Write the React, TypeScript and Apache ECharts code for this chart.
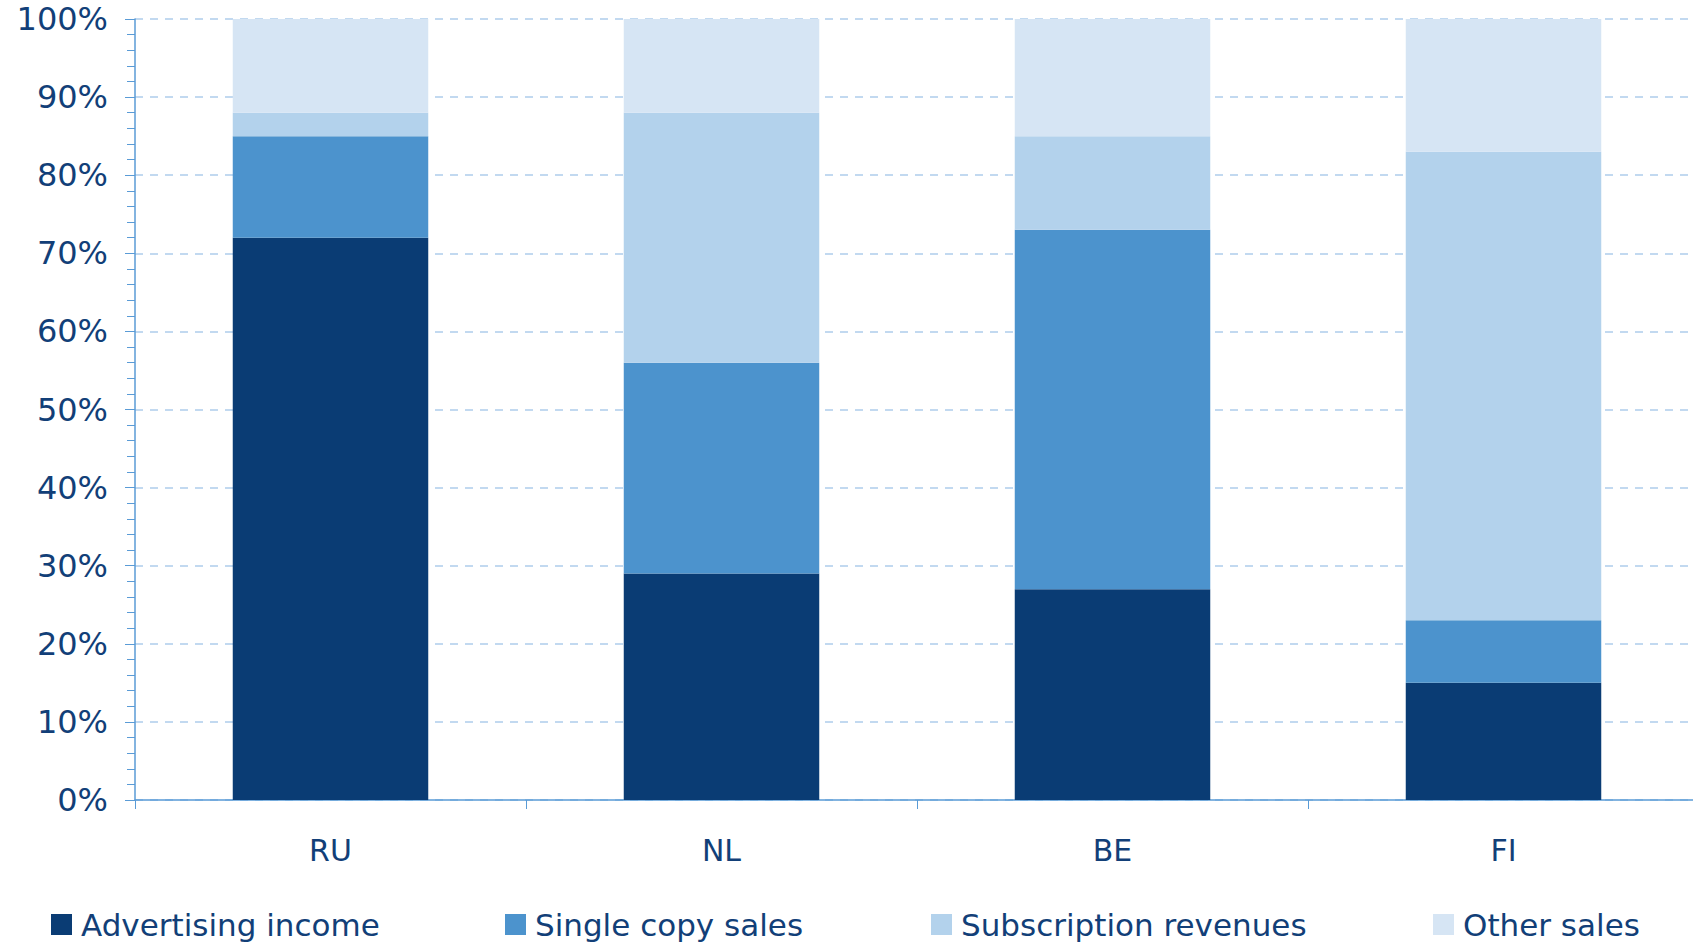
import React, { useEffect, useRef } from "react";
import * as echarts from "echarts";

const categories = ["RU", "NL", "BE", "FI"];
const advertisingIncome = [72, 29, 27, 15];
const singleCopySales = [13, 27, 46, 8];
const subscriptionRevenues = [3, 32, 12, 60];
const otherSales = [12, 12, 15, 17];
const yTicks = [0, 10, 20, 30, 40, 50, 60, 70, 80, 90, 100];

const seriesNames = ["Advertising income", "Single copy sales", "Subscription revenues", "Other sales"];
const seriesColors = ["#0a3c74", "#4c93cd", "#b3d2ec", "#d6e5f4"];
const seriesData = [advertisingIncome, singleCopySales, subscriptionRevenues, otherSales];
const legendLefts = [46, 500, 926, 1428];

const TEXT = "#123f78";
const AXIS = "#5a9bd6";
const FONT = "DejaVu Sans";

export default function App() {
  const ref = useRef<HTMLDivElement>(null);
  useEffect(() => {
    if (!ref.current) return;
    const chart = echarts.init(ref.current, null, { renderer: "svg" });
    chart.setOption({
      animation: false,
      backgroundColor: "#ffffff",
      grid: {
        left: 135,
        top: 19,
        bottom: 143,
        right: -6,
        containLabel: false,
        outerBoundsMode: "none",
      },
      legend: seriesNames.map((name, i) => ({
        data: [name],
        left: legendLefts[i],
        top: 904,
        itemWidth: 21,
        itemHeight: 21,
        itemGap: 0,
        icon: "rect",
        textStyle: { fontFamily: FONT, fontSize: 31, color: TEXT, padding: [0, 0, 0, 4] },
      })),
      xAxis: {
        type: "category",
        data: categories,
        axisLine: { lineStyle: { color: AXIS, width: 1.5 } },
        axisTick: { show: true, length: 9, lineStyle: { color: AXIS, width: 1 } },
        axisLabel: { fontFamily: FONT, fontSize: 30, color: TEXT, margin: 35 },
        splitLine: { show: false },
      },
      yAxis: {
        type: "value",
        min: yTicks[0],
        max: yTicks[yTicks.length - 1],
        interval: 10,
        axisLine: { show: true, lineStyle: { color: AXIS, width: 1.5 } },
        axisTick: { show: true, length: 10, lineStyle: { color: AXIS, width: 1 } },
        minorTick: { show: true, splitNumber: 5, length: 8, lineStyle: { color: AXIS, width: 1 } },
        axisLabel: {
          fontFamily: FONT,
          fontSize: 32,
          color: TEXT,
          margin: 27,
          formatter: (v: number) => v + "%",
        },
        splitLine: { show: true, lineStyle: { color: "#c2d9f0", width: 2, type: [8, 7] } },
      },
      series: seriesNames.map((name, i) => ({
        name,
        type: "bar",
        stack: "total",
        barWidth: "50%",
        data: seriesData[i],
        itemStyle: { color: seriesColors[i] },
      })),
    });
    return () => chart.dispose();
  }, []);
  return (
    <div
      ref={ref}
      style={{ position: "fixed", left: 0, top: 0, width: 1693, height: 943, background: "#fff" }}
    />
  );
}
